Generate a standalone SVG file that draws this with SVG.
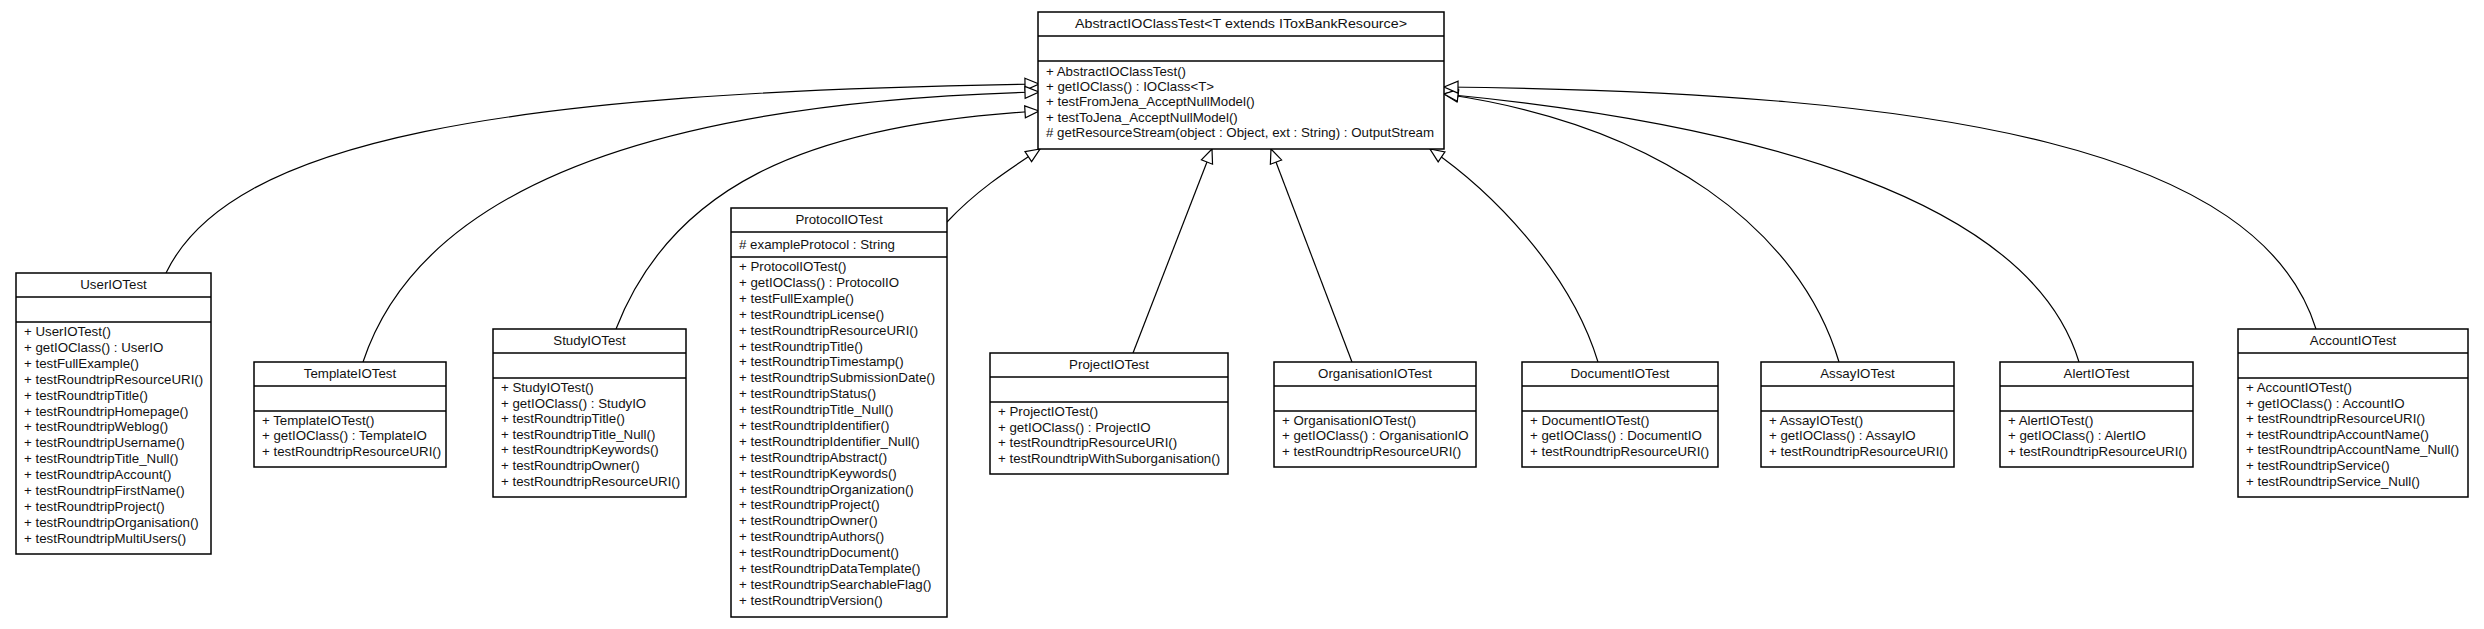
<svg xmlns="http://www.w3.org/2000/svg" width="2484" height="629" viewBox="0 0 2484 629">
<style>
.box{fill:#fff;stroke:#000;stroke-width:1.5}
.sep{stroke:#000;stroke-width:1.5}
text{font-family:"Liberation Sans",Arial,sans-serif;font-size:13.3px;fill:#111}
.t{text-anchor:middle}
.edge{fill:none;stroke:#000;stroke-width:1.2}
</style>
<defs>
<marker id="tri" markerUnits="userSpaceOnUse" markerWidth="18" markerHeight="16" refX="15" refY="7" orient="auto" viewBox="0 0 18 16">
<path d="M1,1 L15,7 L1,13 Z" fill="#fff" stroke="#000" stroke-width="1.2"/>
</marker>
</defs>
<rect width="2484" height="629" fill="#fff"/>
<g id="connectors">
<path class="edge" marker-end="url(#tri)" d="M166,273 C230,140 500,92 1039,84"/>
<path class="edge" marker-end="url(#tri)" d="M363,362 C420,190 650,102 1039,92"/>
<path class="edge" marker-end="url(#tri)" d="M616,329 C670,190 800,125 1039,111"/>
<path class="edge" marker-end="url(#tri)" d="M947,222 C975,192 1005,172 1040,149"/>
<path class="edge" marker-end="url(#tri)" d="M1133,353 L1212,149"/>
<path class="edge" marker-end="url(#tri)" d="M1352,362 L1271,149"/>
<path class="edge" marker-end="url(#tri)" d="M1598,362 C1570,270 1490,190 1430,149"/>
<path class="edge" marker-end="url(#tri)" d="M1839,362 C1800,230 1660,125 1444,94"/>
<path class="edge" marker-end="url(#tri)" d="M2079,362 C2030,200 1760,125 1444,94"/>
<path class="edge" marker-end="url(#tri)" d="M2316,329 C2260,150 1950,92 1444,87"/>
</g>
<g id="AbstractIOClassTest">
<rect class="box" x="1038" y="12" width="406" height="137"/>
<line class="sep" x1="1038" y1="36" x2="1444" y2="36"/>
<line class="sep" x1="1038" y1="61" x2="1444" y2="61"/>
<text class="t" x="1241" y="28" textLength="332" lengthAdjust="spacingAndGlyphs">AbstractIOClassTest&lt;T extends IToxBankResource&gt;</text>
<text x="1046" y="76"><tspan x="1046">+ AbstractIOClassTest()</tspan><tspan x="1046" dy="15.2">+ getIOClass() : IOClass&lt;T&gt;</tspan><tspan x="1046" dy="15.2">+ testFromJena_AcceptNullModel()</tspan><tspan x="1046" dy="15.2">+ testToJena_AcceptNullModel()</tspan><tspan x="1046" dy="15.2"># getResourceStream(object : Object, ext : String) : OutputStream</tspan></text>
</g>
<g id="UserIOTest">
<rect class="box" x="16" y="273" width="195" height="281"/>
<line class="sep" x1="16" y1="297" x2="211" y2="297"/>
<line class="sep" x1="16" y1="322" x2="211" y2="322"/>
<text class="t" x="113.5" y="289">UserIOTest</text>
<text x="24" y="336"><tspan x="24">+ UserIOTest()</tspan><tspan x="24" dy="15.9">+ getIOClass() : UserIO</tspan><tspan x="24" dy="15.9">+ testFullExample()</tspan><tspan x="24" dy="15.9">+ testRoundtripResourceURI()</tspan><tspan x="24" dy="15.9">+ testRoundtripTitle()</tspan><tspan x="24" dy="15.9">+ testRoundtripHomepage()</tspan><tspan x="24" dy="15.9">+ testRoundtripWeblog()</tspan><tspan x="24" dy="15.9">+ testRoundtripUsername()</tspan><tspan x="24" dy="15.9">+ testRoundtripTitle_Null()</tspan><tspan x="24" dy="15.9">+ testRoundtripAccount()</tspan><tspan x="24" dy="15.9">+ testRoundtripFirstName()</tspan><tspan x="24" dy="15.9">+ testRoundtripProject()</tspan><tspan x="24" dy="15.9">+ testRoundtripOrganisation()</tspan><tspan x="24" dy="15.9">+ testRoundtripMultiUsers()</tspan></text>
</g>
<g id="TemplateIOTest">
<rect class="box" x="254" y="362" width="192" height="105"/>
<line class="sep" x1="254" y1="386" x2="446" y2="386"/>
<line class="sep" x1="254" y1="411" x2="446" y2="411"/>
<text class="t" x="350" y="378">TemplateIOTest</text>
<text x="262" y="425"><tspan x="262">+ TemplateIOTest()</tspan><tspan x="262" dy="15.3">+ getIOClass() : TemplateIO</tspan><tspan x="262" dy="15.3">+ testRoundtripResourceURI()</tspan></text>
</g>
<g id="StudyIOTest">
<rect class="box" x="493" y="329" width="193" height="168"/>
<line class="sep" x1="493" y1="353" x2="686" y2="353"/>
<line class="sep" x1="493" y1="378" x2="686" y2="378"/>
<text class="t" x="589.5" y="345">StudyIOTest</text>
<text x="501" y="392"><tspan x="501">+ StudyIOTest()</tspan><tspan x="501" dy="15.6">+ getIOClass() : StudyIO</tspan><tspan x="501" dy="15.6">+ testRoundtripTitle()</tspan><tspan x="501" dy="15.6">+ testRoundtripTitle_Null()</tspan><tspan x="501" dy="15.6">+ testRoundtripKeywords()</tspan><tspan x="501" dy="15.6">+ testRoundtripOwner()</tspan><tspan x="501" dy="15.6">+ testRoundtripResourceURI()</tspan></text>
</g>
<g id="ProtocolIOTest">
<rect class="box" x="731" y="208" width="216" height="409"/>
<line class="sep" x1="731" y1="232" x2="947" y2="232"/>
<line class="sep" x1="731" y1="257" x2="947" y2="257"/>
<text class="t" x="839" y="224">ProtocolIOTest</text>
<text x="739" y="249"># exampleProtocol : String</text>
<text x="739" y="271"><tspan x="739">+ ProtocolIOTest()</tspan><tspan x="739" dy="15.9">+ getIOClass() : ProtocolIO</tspan><tspan x="739" dy="15.9">+ testFullExample()</tspan><tspan x="739" dy="15.9">+ testRoundtripLicense()</tspan><tspan x="739" dy="15.9">+ testRoundtripResourceURI()</tspan><tspan x="739" dy="15.9">+ testRoundtripTitle()</tspan><tspan x="739" dy="15.9">+ testRoundtripTimestamp()</tspan><tspan x="739" dy="15.9">+ testRoundtripSubmissionDate()</tspan><tspan x="739" dy="15.9">+ testRoundtripStatus()</tspan><tspan x="739" dy="15.9">+ testRoundtripTitle_Null()</tspan><tspan x="739" dy="15.9">+ testRoundtripIdentifier()</tspan><tspan x="739" dy="15.9">+ testRoundtripIdentifier_Null()</tspan><tspan x="739" dy="15.9">+ testRoundtripAbstract()</tspan><tspan x="739" dy="15.9">+ testRoundtripKeywords()</tspan><tspan x="739" dy="15.9">+ testRoundtripOrganization()</tspan><tspan x="739" dy="15.9">+ testRoundtripProject()</tspan><tspan x="739" dy="15.9">+ testRoundtripOwner()</tspan><tspan x="739" dy="15.9">+ testRoundtripAuthors()</tspan><tspan x="739" dy="15.9">+ testRoundtripDocument()</tspan><tspan x="739" dy="15.9">+ testRoundtripDataTemplate()</tspan><tspan x="739" dy="15.9">+ testRoundtripSearchableFlag()</tspan><tspan x="739" dy="15.9">+ testRoundtripVersion()</tspan></text>
</g>
<g id="ProjectIOTest">
<rect class="box" x="990" y="353" width="238" height="121"/>
<line class="sep" x1="990" y1="377" x2="1228" y2="377"/>
<line class="sep" x1="990" y1="402" x2="1228" y2="402"/>
<text class="t" x="1109" y="369">ProjectIOTest</text>
<text x="998" y="416"><tspan x="998">+ ProjectIOTest()</tspan><tspan x="998" dy="15.6">+ getIOClass() : ProjectIO</tspan><tspan x="998" dy="15.6">+ testRoundtripResourceURI()</tspan><tspan x="998" dy="15.6">+ testRoundtripWithSuborganisation()</tspan></text>
</g>
<g id="OrganisationIOTest">
<rect class="box" x="1274" y="362" width="202" height="105"/>
<line class="sep" x1="1274" y1="386" x2="1476" y2="386"/>
<line class="sep" x1="1274" y1="411" x2="1476" y2="411"/>
<text class="t" x="1375" y="378">OrganisationIOTest</text>
<text x="1282" y="425"><tspan x="1282">+ OrganisationIOTest()</tspan><tspan x="1282" dy="15.3">+ getIOClass() : OrganisationIO</tspan><tspan x="1282" dy="15.3">+ testRoundtripResourceURI()</tspan></text>
</g>
<g id="DocumentIOTest">
<rect class="box" x="1522" y="362" width="196" height="105"/>
<line class="sep" x1="1522" y1="386" x2="1718" y2="386"/>
<line class="sep" x1="1522" y1="411" x2="1718" y2="411"/>
<text class="t" x="1620" y="378">DocumentIOTest</text>
<text x="1530" y="425"><tspan x="1530">+ DocumentIOTest()</tspan><tspan x="1530" dy="15.3">+ getIOClass() : DocumentIO</tspan><tspan x="1530" dy="15.3">+ testRoundtripResourceURI()</tspan></text>
</g>
<g id="AssayIOTest">
<rect class="box" x="1761" y="362" width="193" height="105"/>
<line class="sep" x1="1761" y1="386" x2="1954" y2="386"/>
<line class="sep" x1="1761" y1="411" x2="1954" y2="411"/>
<text class="t" x="1857.5" y="378">AssayIOTest</text>
<text x="1769" y="425"><tspan x="1769">+ AssayIOTest()</tspan><tspan x="1769" dy="15.3">+ getIOClass() : AssayIO</tspan><tspan x="1769" dy="15.3">+ testRoundtripResourceURI()</tspan></text>
</g>
<g id="AlertIOTest">
<rect class="box" x="2000" y="362" width="193" height="105"/>
<line class="sep" x1="2000" y1="386" x2="2193" y2="386"/>
<line class="sep" x1="2000" y1="411" x2="2193" y2="411"/>
<text class="t" x="2096.5" y="378">AlertIOTest</text>
<text x="2008" y="425"><tspan x="2008">+ AlertIOTest()</tspan><tspan x="2008" dy="15.3">+ getIOClass() : AlertIO</tspan><tspan x="2008" dy="15.3">+ testRoundtripResourceURI()</tspan></text>
</g>
<g id="AccountIOTest">
<rect class="box" x="2238" y="329" width="230" height="168"/>
<line class="sep" x1="2238" y1="353" x2="2468" y2="353"/>
<line class="sep" x1="2238" y1="378" x2="2468" y2="378"/>
<text class="t" x="2353" y="345">AccountIOTest</text>
<text x="2246" y="392"><tspan x="2246">+ AccountIOTest()</tspan><tspan x="2246" dy="15.6">+ getIOClass() : AccountIO</tspan><tspan x="2246" dy="15.6">+ testRoundtripResourceURI()</tspan><tspan x="2246" dy="15.6">+ testRoundtripAccountName()</tspan><tspan x="2246" dy="15.6">+ testRoundtripAccountName_Null()</tspan><tspan x="2246" dy="15.6">+ testRoundtripService()</tspan><tspan x="2246" dy="15.6">+ testRoundtripService_Null()</tspan></text>
</g>
</svg>
